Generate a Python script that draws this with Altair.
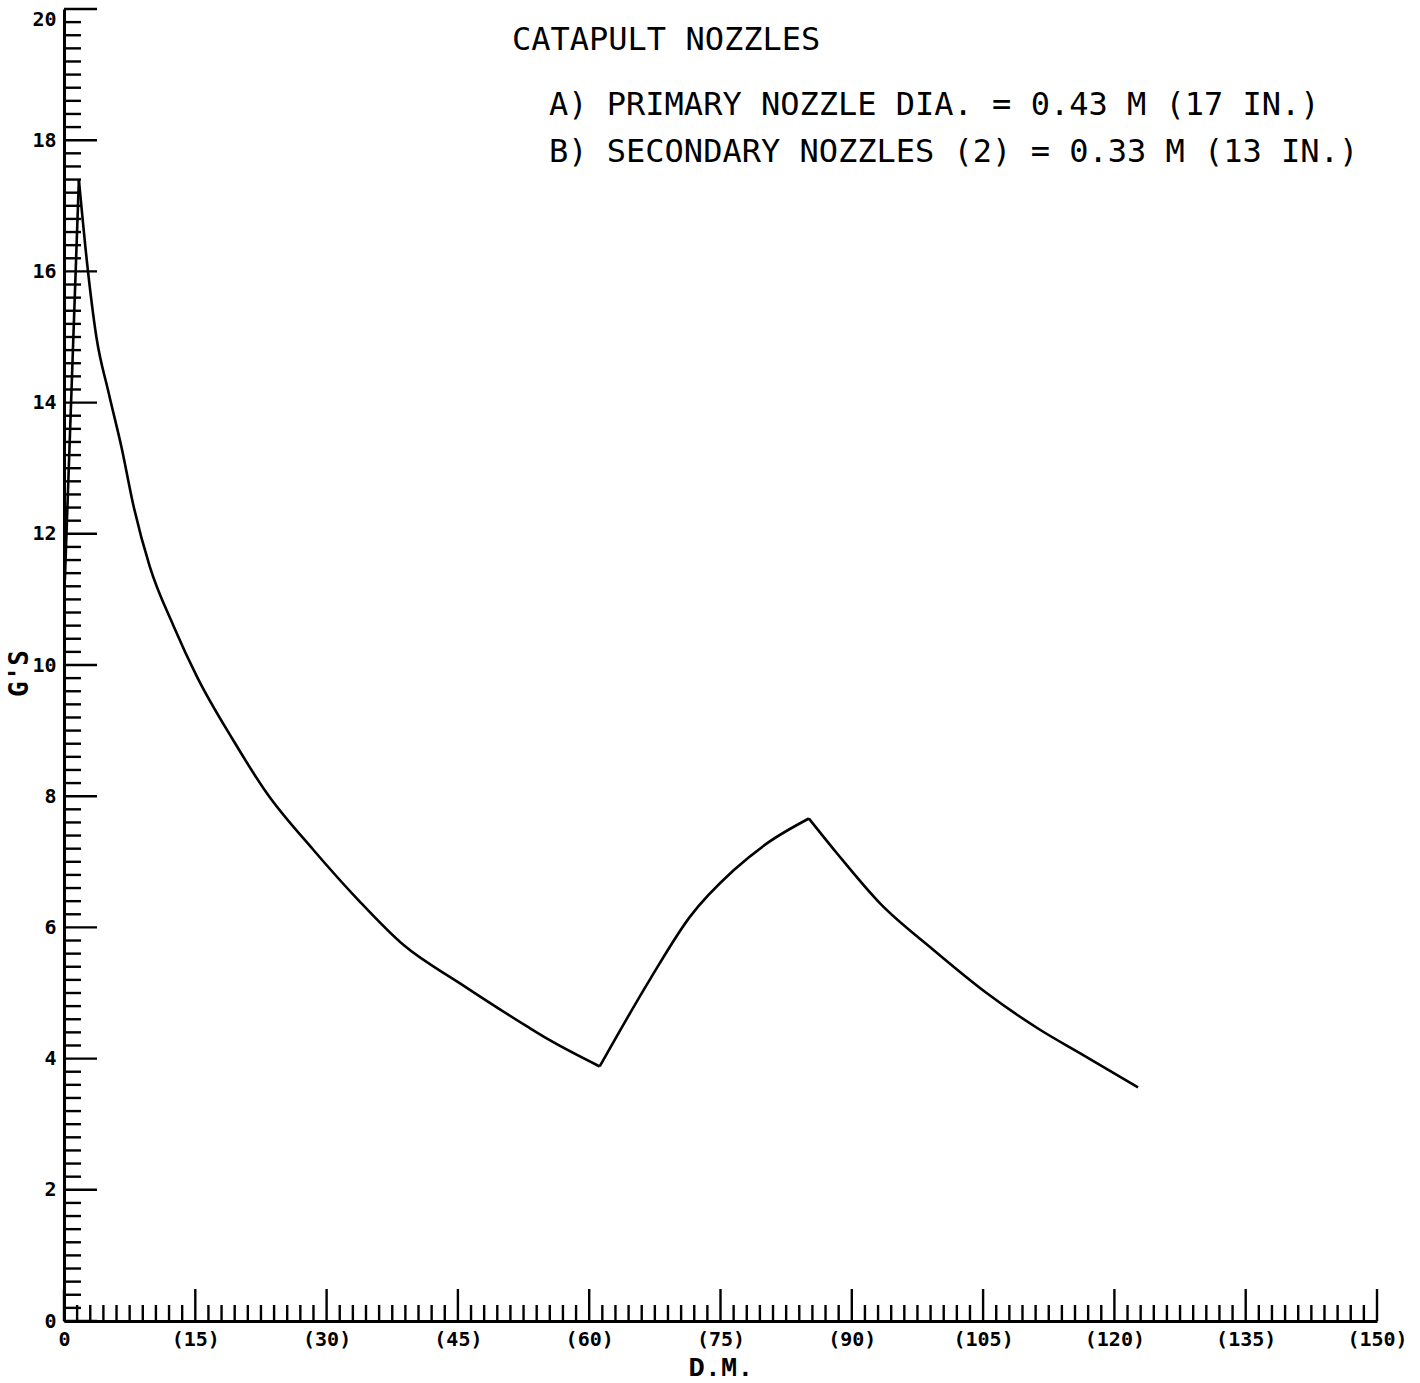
import altair as alt
import pandas as pd

# curve
dist = [0.1, 1.7, 2.7, 3.7, 5.1, 6.6, 7.9, 9.8, 12.5, 15.2, 19.3, 23.2, 28.5, 33.6,
        38.8, 45.2, 52.9, 55.5, 61.2, 67.0, 71.5, 76.5, 80.3, 85.1, 88.3, 93.2,
        99.3, 105.4, 111.5, 116.1, 122.7]
gs = [11.3, 17.4, 16.05, 15.0, 14.15, 13.3, 12.45, 11.5, 10.6, 9.82, 8.86, 8.04,
      7.18, 6.42, 5.73, 5.15, 4.49, 4.28, 3.88, 5.22, 6.16, 6.87, 7.28, 7.66, 7.13,
      6.37, 5.66, 5.00, 4.44, 4.08, 3.56]
# indices where the curve changes direction (sharp corners)
corners = [0, 1, 18, 23, 30]

x_major = [0, 15, 30, 45, 60, 75, 90, 105, 120, 135, 150]
y_major = [0, 2, 4, 6, 8, 10, 12, 14, 16, 18, 20]
x_minor = [round(v * 1.5, 2) for v in range(0, 101) if v % 10 != 0]
y_minor = [round(v * 0.2, 2) for v in range(0, 101) if v % 10 != 0]

notes = ["CATAPULT NOZZLES",
         "A) PRIMARY NOZZLE DIA. = 0.43 M (17 IN.)",
         "B) SECONDARY NOZZLES (2) = 0.33 M (13 IN.)"]

W, H = 1313, 1312
xs = alt.Scale(domain=[0, 150], nice=False, zero=False)
ys = alt.Scale(domain=[0, 20], nice=False, zero=False)
LBL = "DejaVu Sans Mono"
NOTE_FONT = "DejaVu Sans Mono"

rows = []
for s in range(len(corners) - 1):
    for i in range(corners[s], corners[s + 1] + 1):
        rows.append({"dm": dist[i], "g": gs[i], "seg": s, "o": i})
df = pd.DataFrame(rows)

line = alt.Chart(df).mark_line(color="black", strokeWidth=2.6, interpolate="monotone").encode(
    x=alt.X("dm:Q", scale=xs,
            axis=alt.Axis(values=x_major, ticks=False, grid=False, domainColor="black",
                          domainWidth=3, labelFont=LBL, labelFontWeight="bold",
                          labelFontSize=20, labelColor="black", labelPadding=8,
                          labelExpr="datum.value == 0 ? '0' : '(' + datum.value + ')'",
                          labelFlush=False, title="D.M.", titleFont="Liberation Mono",
                          titleFontWeight="bold", titleFontSize=27, titleColor="black",
                          titleY=54, titleBaseline="alphabetic")),
    y=alt.Y("g:Q", scale=ys,
            axis=alt.Axis(values=y_major, format="d", ticks=False, grid=False,
                          domainColor="black", domainWidth=3, labelFont=LBL,
                          labelFontWeight="bold", labelFontSize=20, labelColor="black",
                          labelPadding=8,
                          labelBaseline={"condition": {"test": "datum.value == 20", "value": "top"},
                                         "value": "middle"},
                          labelFlush=False,
                          title="G'S", titleFont=LBL, titleFontWeight="bold",
                          titleFontSize=26, titleColor="black", titleX=-45, titleY=664,
                          titleAlign="center", titleBaseline="middle")),
    detail="seg:N",
    order="o:Q",
)

def yticks(vals, length):
    return alt.Chart(pd.DataFrame({"g": vals})).mark_rule(color="black", strokeWidth=2.4).encode(
        y=alt.Y("g:Q", scale=ys), x=alt.value(0), x2=alt.value(length))

def xticks(vals, length):
    return alt.Chart(pd.DataFrame({"dm": vals})).mark_rule(color="black", strokeWidth=2.4).encode(
        x=alt.X("dm:Q", scale=xs), y=alt.value(H), y2=alt.value(H - length))

def note(t, px, py):
    return alt.Chart(pd.DataFrame({"t": [t]})).mark_text(
        font=NOTE_FONT, fontSize=32, align="left", baseline="alphabetic", color="black"
    ).encode(text="t:N", x=alt.value(px), y=alt.value(py))

chart = alt.layer(line, yticks(y_minor, 17), yticks(y_major, 33),
                  xticks(x_minor, 16), xticks(x_major, 32),
                  note(notes[0], 448, 41), note(notes[1], 485, 106),
                  note(notes[2], 485, 153)).properties(
    width=W, height=H, background="white",
    autosize=alt.AutoSizeParams(type="none"),
    padding={"left": 64, "top": 9, "right": 43, "bottom": 62},
).configure_view(strokeWidth=0)

chart.save("out.html", embed_options={"renderer": "svg", "actions": False})
